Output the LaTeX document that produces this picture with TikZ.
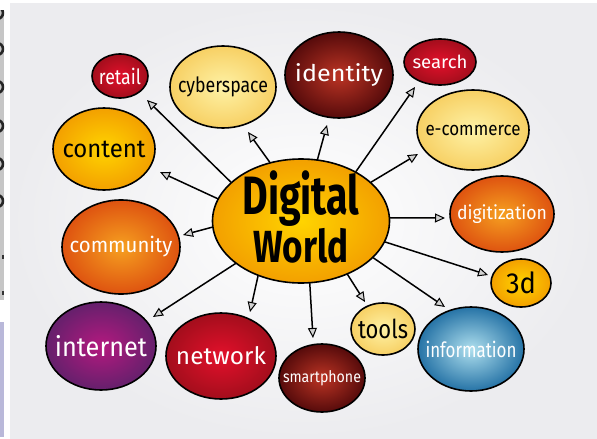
\documentclass[tikz,border=0pt]{standalone}
\usepackage{fontspec}
\setmainfont{Fira Sans}
\usepackage{graphicx}
\usetikzlibrary{shapes.geometric,arrows.meta}

% palette
\definecolor{bgout}{HTML}{ECECEF}
\definecolor{panelgray}{HTML}{C6C6C6}
\definecolor{panellav}{HTML}{B9B8D9}
\definecolor{redin}{HTML}{E3102B}
\definecolor{redout}{HTML}{A30E1C}
\definecolor{maroonin}{HTML}{BC3424}
\definecolor{maroonout}{HTML}{560B0B}
\definecolor{palein}{HTML}{FEF2A6}
\definecolor{paleout}{HTML}{F7D064}
\definecolor{goldin}{HTML}{FFD400}
\definecolor{goldout}{HTML}{F3A000}
\definecolor{orangein}{HTML}{F6A020}
\definecolor{orangeout}{HTML}{DE5310}
\definecolor{purplein}{HTML}{B4197F}
\definecolor{purpleout}{HTML}{65206C}
\definecolor{bluein}{HTML}{AEDFEE}
\definecolor{blueout}{HTML}{2673A6}

% label: font size, set width, text
\newcommand\lab[3]{{\fontsize{#1}{#1}\selectfont\resizebox{#2}{\height}{#3}}}

\tikzset{
  bubble/.style={ellipse, draw=black, line width=1.6pt, inner sep=0pt},
  redb/.style={bubble, inner color=redin, outer color=redout},
  maroonb/.style={bubble, inner color=maroonin, outer color=maroonout},
  paleb/.style={bubble, inner color=palein, outer color=paleout},
  goldb/.style={bubble, inner color=goldin, outer color=goldout},
  orangeb/.style={bubble, inner color=orangein, outer color=orangeout},
  purpleb/.style={bubble, inner color=purplein, outer color=purpleout},
  blueb/.style={bubble, inner color=bluein, outer color=blueout},
  wlab/.style={inner sep=0pt, text=white},
  blab/.style={inner sep=0pt, text=black},
  arr/.style={line width=1.5pt, line cap=round,
    -{Triangle[length=10pt,width=9pt,fill=gray!35,line width=1pt]}},
  stroke/.style={line width=2.6pt, black!85},
}

\begin{document}
\begin{tikzpicture}[x=1pt,y=-1pt]
  \useasboundingbox (0,0) rectangle (597,439);
  \fill[white] (0,0) rectangle (597,439);

  % side strips with the edges of dark glyph strokes
  \fill[panelgray] (0,10) rectangle (4,300);
  \fill[panellav] (0,322) rectangle (4,437);
  \begin{scope}
    \clip (0,10) rectangle (4,300);
    \foreach \y in {25,61,99,138,176,213}
      \draw[stroke] (-3,\y-6) arc[start angle=90, end angle=-90, radius=6];
    \fill[black!80] (2,255) rectangle (4,259);
    \fill[black!80] (2,291) rectangle (4,295);
  \end{scope}

  % backdrop
  \shade[inner color=white, outer color=bgout] (10,3) rectangle (597,439);

  % bubbles
  \node[goldb, minimum width=177pt, minimum height=124pt] (dw) at (301,221) {};
  \node[redb, minimum width=56pt, minimum height=44pt] (retail) at (120,76) {};
  \node[paleb, minimum width=106pt, minimum height=82pt] (cyber) at (223,87) {};
  \node[goldb, minimum width=102pt, minimum height=82pt] (content) at (104,149) {};
  \node[maroonb, minimum width=108pt, minimum height=86pt] (identity) at (339,75) {};
  \node[redb, minimum width=72pt, minimum height=46pt] (search) at (440,62) {};
  \node[paleb, minimum width=112pt, minimum height=80pt] (ecom) at (473,130) {};
  \node[orangeb, minimum width=104pt, minimum height=76pt] (digit) at (502,214) {};
  \node[goldb, minimum width=60pt, minimum height=48pt] (threed) at (521,283) {};
  \node[blueb, minimum width=106pt, minimum height=84pt] (info) at (471,349) {};
  \node[paleb, minimum width=64pt, minimum height=52pt] (tools) at (383,329) {};
  \node[maroonb, minimum width=86pt, minimum height=68pt] (phone) at (322,378) {};
  \node[redb, minimum width=110pt, minimum height=86pt] (network) at (221,356) {};
  \node[purpleb, minimum width=110pt, minimum height=88pt] (internet) at (101,346) {};
  \node[orangeb, minimum width=118pt, minimum height=94pt] (community) at (121,247) {};

  % bubble texts
  \node[blab, align=center, font=\bfseries] (dwt) at ([yshift=4pt]dw.center)
    {{\fontsize{54}{42}\selectfont\resizebox{117pt}{\height}{Digital}}\\
     {\fontsize{45}{42}\selectfont\resizebox{95pt}{\height}{World}}};
  \node[wlab] (retailt) at (retail) {\lab{21}{42pt}{retail}};
  \node[blab] (cybert) at (cyber) {\lab{21}{90pt}{cyberspace}};
  \node[blab] (contentt) at (content) {\lab{25}{83pt}{content}};
  \node[wlab] (identityt) at (identity) {\lab{23}{88pt}{identity}};
  \node[wlab] (searcht) at (search) {\lab{18}{55pt}{search}};
  \node[blab] (ecomt) at (ecom) {\lab{19}{95pt}{e-commerce}};
  \node[wlab] (digitt) at (digit) {\lab{19}{90pt}{digitization}};
  \node[blab] (threedt) at (threed) {\lab{29}{30pt}{3d}};
  \node[wlab] (infot) at (info) {\lab{21}{91pt}{information}};
  \node[blab] (toolst) at (tools) {\lab{26}{50pt}{tools}};
  \node[wlab] (phonet) at (phone) {\lab{16}{78pt}{smartphone}};
  \node[wlab] (networkt) at (network) {\lab{24}{90pt}{network}};
  \node[wlab] (internett) at (internet) {\lab{27}{92pt}{internet}};
  \node[wlab] (communityt) at (community) {\lab{21}{103pt}{community}};

  % arrow tips stop short of the bubbles
  \coordinate (tRetail) at (147,100);
  \coordinate (tCyber) at (248,132);
  \coordinate (tContent) at (160,172);
  \coordinate (tIdentity) at (327,125);
  \coordinate (tSearch) at (415,87);
  \coordinate (tEcom) at (418,154);
  \coordinate (tDigit) at (445,218);
  \coordinate (tThreed) at (488,275);
  \coordinate (tInfo) at (445,307);
  \coordinate (tTools) at (365,302);
  \coordinate (tPhone) at (313,338);
  \coordinate (tNetwork) at (250,312);
  \coordinate (tInternet) at (153,317);
  \coordinate (tCommunity) at (183,235);

  \draw[arr] (dw.151) -- (tRetail);
  \draw[arr] (dw.118) -- (tCyber);
  \draw[arr] (dw.165) -- (tContent);
  \draw[arr] (dw.75) -- (tIdentity);
  \draw[arr] (dw.42) -- (tSearch);
  \draw[arr] (dw.29) -- (tEcom);
  \draw[arr] (dw.2) -- (tDigit);
  \draw[arr] (dw.-14) -- (tThreed);
  \draw[arr] (dw.-27) -- (tInfo);
  \draw[arr] (dw.-49) -- (tTools);
  \draw[arr] (dw.-82) -- (tPhone);
  \draw[arr] (dw.-128) -- (tNetwork);
  \draw[arr] (dw.-147) -- (tInternet);
  \draw[arr] (dw.184) -- (tCommunity);
\end{tikzpicture}
\end{document}
